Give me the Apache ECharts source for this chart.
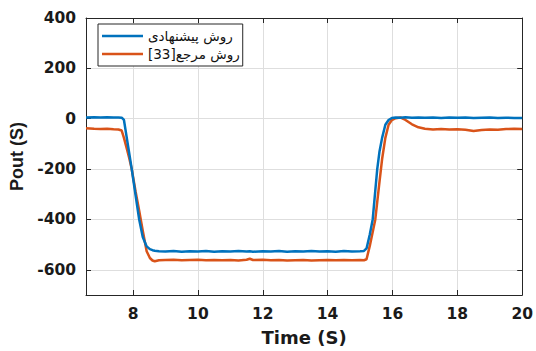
<!DOCTYPE html>
<html>
<head>
<meta charset="utf-8">
<script src="https://cdn.jsdelivr.net/npm/echarts@6/dist/echarts.min.js"></script>
<style>
  html, body { margin: 0; padding: 0; background: #fff; }
  #chart { width: 536px; height: 351px; }
</style>
</head>
<body>
<div id="chart"></div>
<script>
// Output power response: proposed method vs. reference method [33]
const time = [
  6.55, 6.8, 7.0, 7.2, 7.4, 7.55, 7.65, 7.72, 7.8, 7.88, 7.96, 8.08, 8.19, 8.3, 8.42, 8.52, 8.6, 8.67, 8.8,
  9.0, 9.25, 9.5, 9.75, 10.0, 10.25, 10.5, 10.75, 11.0, 11.25, 11.5, 11.6, 11.7, 12.0, 12.25, 12.5, 12.75,
  13.0, 13.25, 13.5, 13.75, 14.0, 14.25, 14.5, 14.75, 15.0, 15.12, 15.2, 15.3, 15.39, 15.47, 15.53, 15.6,
  15.68, 15.78, 15.88, 15.98, 16.1, 16.24, 16.4, 16.6, 16.8, 17.0, 17.25, 17.5, 17.75, 18.0, 18.25, 18.5,
  18.75, 19.0, 19.25, 19.5, 19.75, 20.0
];

const proposed = [
  5, 6, 5, 6, 5, 5, 4, -5, -70, -135, -200, -305, -400, -470, -507, -518, -522, -524, -526,
  -527, -525, -528, -526, -527, -525, -528, -526, -527, -525, -527, -526, -528, -526, -527, -525, -528,
  -526, -527, -525, -527, -526, -528, -525, -527, -526, -525, -515, -460, -400, -285, -200, -130,
  -76, -24, -5, 3, 5, 4, 6, 4, 5, 4, 5, 3, 5, 4, 5, 3,
  4, 5, 3, 4, 3, 3
];

const reference = [
  -38, -40, -41, -40, -42, -43, -47, -76, -115, -155, -200, -290, -365, -445, -526, -553, -563, -566, -562,
  -561, -560, -562, -561, -560, -562, -561, -562, -561, -563, -560, -556, -561, -560, -562, -561, -563,
  -562, -561, -563, -562, -561, -562, -561, -562, -561, -562, -558, -505, -450, -400, -330, -250,
  -160, -76, -24, -5, 2, 5, -5, -22, -34, -40, -43, -41, -43, -42, -44, -49,
  -45, -43, -44, -41, -40, -41
];

const xTicks = [8, 10, 12, 14, 16, 18, 20];
const yTicks = [-600, -400, -200, 0, 200, 400];

const seriesNames = ['روش پیشنهادی', '[33]\u200Eروش مرجع'];
const seriesColors = ['#0072BD', '#D95319'];

const axisColor = '#262626';
const gridColor = '#dedede';
const tickFont = 'DejaVu Sans';

// SVG output keeps the Arabic legend text properly joined
const chart = echarts.init(document.getElementById('chart'), null, { renderer: 'svg' });

function pairs(vals) {
  return time.map((t, i) => [t, vals[i]]);
}

function axisCommon(ticks) {
  return {
    type: 'value',
    axisLine: { show: true, onZero: false, lineStyle: { color: axisColor, width: 1 } },
    axisTick: { show: true, inside: true, length: 5, customValues: ticks, lineStyle: { color: axisColor } },
    axisLabel: { show: false },
    splitLine: { show: false }
  };
}

const labelStyle = { color: '#1a1a1a', fontFamily: tickFont, fontWeight: 'bold', fontSize: 15.5 };

chart.setOption({
  backgroundColor: '#fff',
  animation: false,
  grid: { left: 86, right: 12, top: 18, bottom: 54, containLabel: false },
  legend: {
    left: 98, top: 24,
    orient: 'vertical',
    backgroundColor: '#fff',
    borderColor: axisColor,
    borderWidth: 1,
    padding: [5, 3, 5, 4],
    icon: 'rect', itemWidth: 41, itemHeight: 2.5, itemGap: 4,
    textStyle: { fontFamily: 'DejaVu Sans', fontSize: 13.5, color: '#111' },
    data: seriesNames
  },
  xAxis: [
    Object.assign(axisCommon(xTicks), {
      min: 6.55, max: 20, position: 'bottom',
      name: 'Time (S)', nameLocation: 'middle', nameGap: 33,
      nameTextStyle: { fontFamily: tickFont, fontWeight: 'bold', fontSize: 18, color: '#1a1a1a' },
      axisLabel: Object.assign({ show: true, customValues: xTicks, margin: 11 }, labelStyle),
      splitLine: { show: true, lineStyle: { color: gridColor, width: 1 } }
    }),
    Object.assign(axisCommon(xTicks), { min: 6.55, max: 20, position: 'top' })
  ],
  yAxis: [
    Object.assign(axisCommon(yTicks), {
      min: -700, max: 400, position: 'left',
      name: 'Pout (S)', nameLocation: 'middle', nameGap: 56,
      nameTextStyle: { fontFamily: 'Liberation Sans', fontWeight: 'bold', fontSize: 18, color: '#1a1a1a' },
      axisLabel: Object.assign({ show: true, customValues: yTicks, margin: 10 }, labelStyle),
      splitLine: { show: true, lineStyle: { color: gridColor, width: 1 } }
    }),
    Object.assign(axisCommon(yTicks), { min: -700, max: 400, position: 'right' })
  ],
  series: [
    {
      name: seriesNames[0], type: 'line', data: pairs(proposed),
      showSymbol: false, symbol: 'none',
      lineStyle: { color: seriesColors[0], width: 2.5 }, itemStyle: { color: seriesColors[0] }, z: 3
    },
    {
      name: seriesNames[1], type: 'line', data: pairs(reference),
      showSymbol: false, symbol: 'none',
      lineStyle: { color: seriesColors[1], width: 2.5 }, itemStyle: { color: seriesColors[1] }, z: 2
    }
  ]
});
</script>
</body>
</html>
